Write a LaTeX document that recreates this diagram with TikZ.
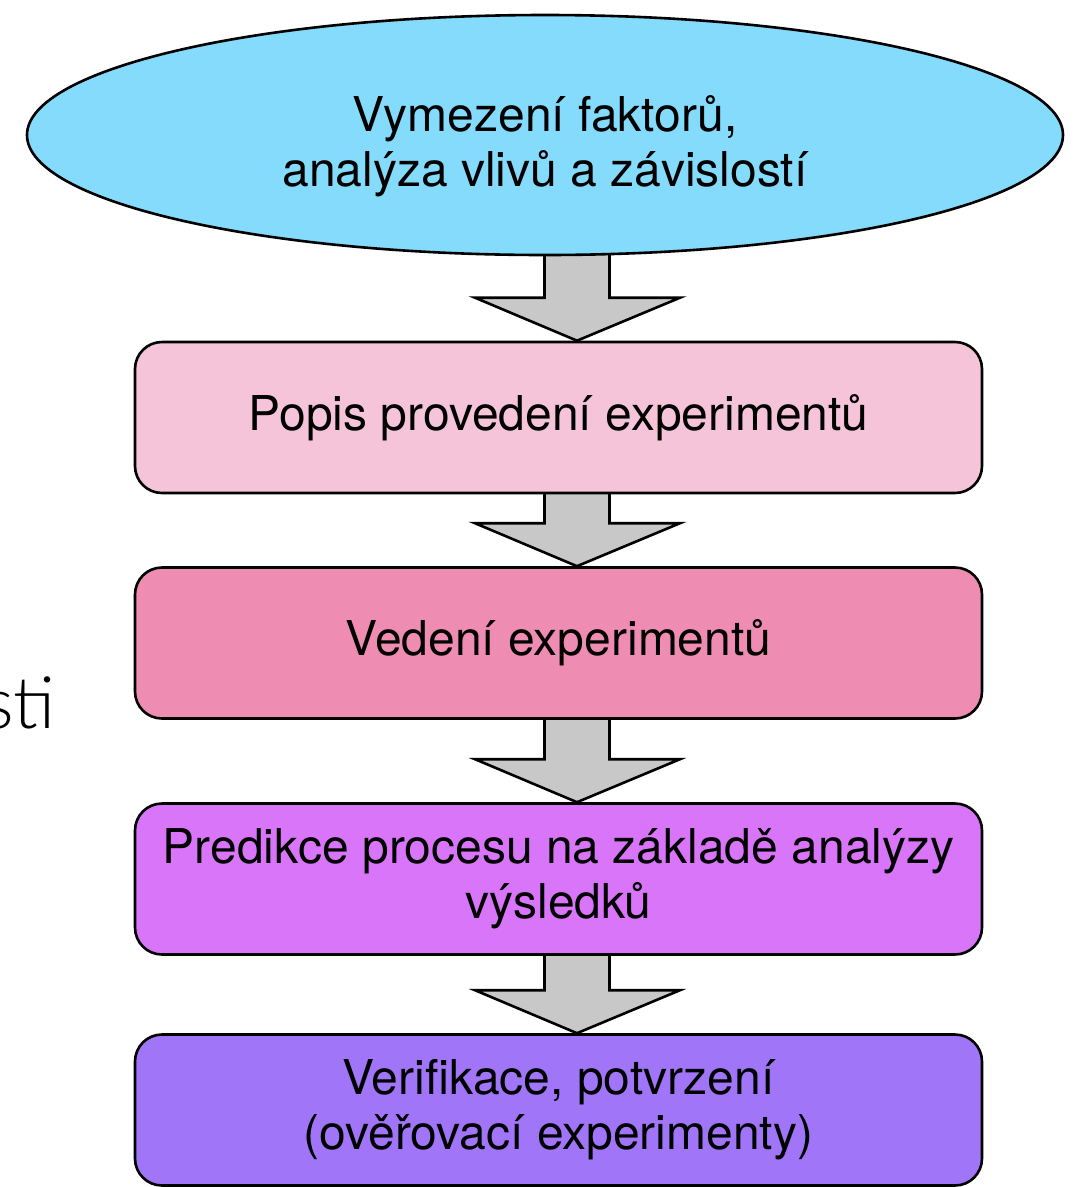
\documentclass[tikz,border=0pt]{standalone}
\usepackage{fontspec}
\setmainfont{TeX Gyre Heros}
\newfontfamily\thinfont{Lato}[UprightFont=* Light]
\usetikzlibrary{shapes.geometric,calc}
\pgfdeclarelayer{bg}
\pgfsetlayers{bg,main}
\definecolor{ellcol}{HTML}{84DBFB}
\definecolor{boxa}{HTML}{F5C4D8}
\definecolor{boxb}{HTML}{EE8CB1}
\definecolor{boxc}{HTML}{D875F8}
\definecolor{boxd}{HTML}{A075F8}
\definecolor{arrgray}{HTML}{C8C8C8}
\tikzset{
  txt/.style={align=center, font=\fontsize{48}{55}\selectfont},
  stepbox/.style={draw=black, line width=2.6pt, rounded corners=27pt, minimum width=847pt, minimum height=151pt, inner sep=0pt, txt},
  topell/.style={draw=black, line width=2.6pt, ellipse, minimum width=1036pt, minimum height=240pt, inner sep=0pt, fill=ellcol},
  blockarr/.style={draw=black, line width=2.6pt, fill=arrgray, line join=miter},
}
\newcommand\blockarrow[2]{%
  \begin{pgfonlayer}{bg}
  \draw[blockarr] let \p1=(#1), \p2=(#2) in
    (544.5pt,\y1+10pt) -- (609.5pt,\y1+10pt) -- (609.5pt,\y2+43pt) -- (680pt,\y2+43pt)
    -- (577pt,\y2) -- (475pt,\y2+43pt) -- (544.5pt,\y2+43pt) -- cycle;
  \end{pgfonlayer}}
\begin{document}
\begin{tikzpicture}[x=1pt,y=-1pt]
\useasboundingbox (0,0) rectangle (1077,1187);
\node[topell] (top) at (545,135) {};
\node[txt, inner sep=0pt] (toptext) at (545,146) {Vymezení faktorů,\\analýza vlivů a závislostí};
\node[stepbox, fill=boxa] (b1) at (558.5,417.5) {\raisebox{-4pt}{Popis provedení experimentů}};
\node[stepbox, fill=boxb] (b2) at (558.5,643) {Vedení experimentů};
\node[stepbox, fill=boxc] (b3) at (558.5,879) {Predikce procesu na základě analýzy\\výsledků};
\node[stepbox, fill=boxd] (b4) at (558.5,1110) {Verifikace, potvrzení\\(ověřovací experimenty)};
\node[anchor=base east, inner sep=0pt, font=\thinfont\fontsize{72}{80}\selectfont] (frag) at (56,728) {sti};
\blockarrow{top.south}{b1.north}
\blockarrow{b1.south}{b2.north}
\blockarrow{b2.south}{b3.north}
\blockarrow{b3.south}{b4.north}
\end{tikzpicture}
\end{document}
